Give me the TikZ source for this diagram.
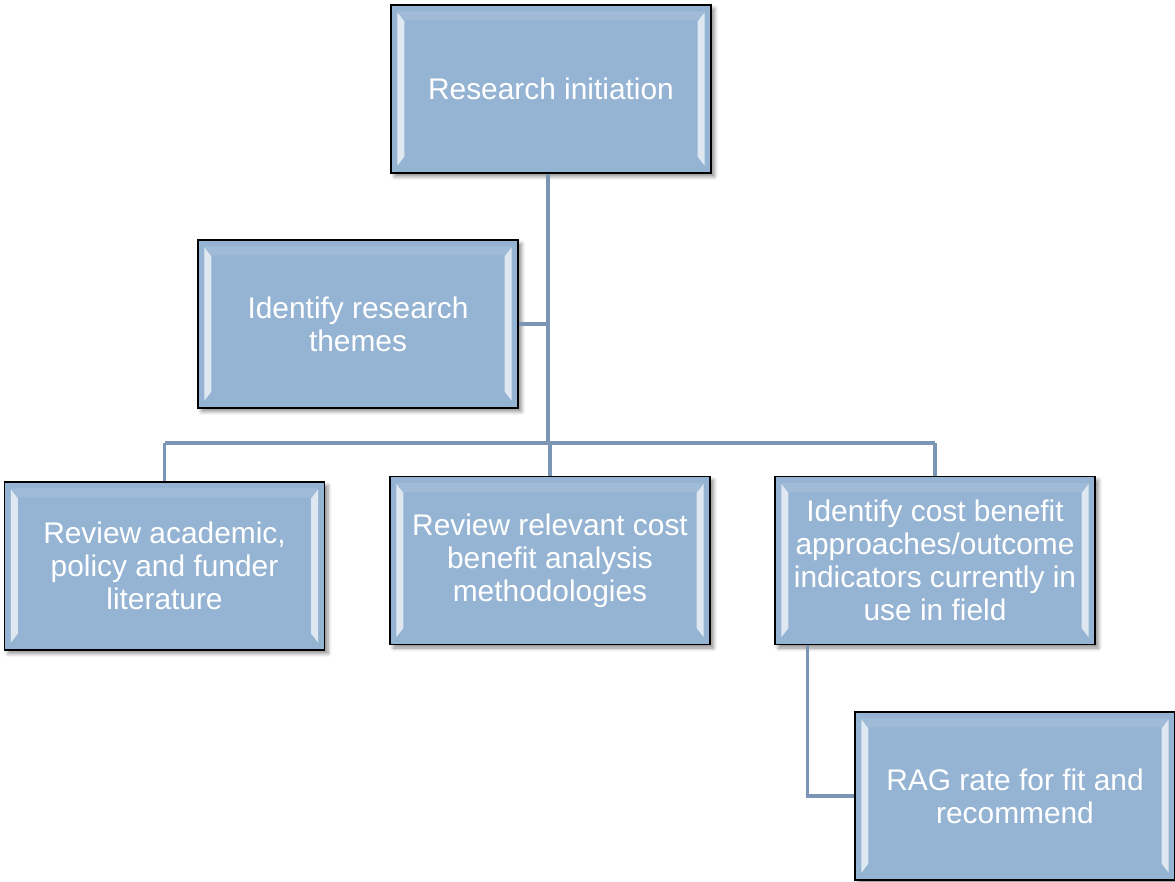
\documentclass[tikz,border=0pt]{standalone}
\usepackage{fontspec}
\setmainfont{Liberation Sans}
\usetikzlibrary{calc,shadows.blur}
\definecolor{boxfill}{RGB}{149,180,211}
\definecolor{linkcol}{RGB}{122,150,180}
\tikzset{
  stepbox/.style={rectangle,draw=black,line width=0.8pt,fill=boxfill,
    minimum width=6.4cm,minimum height=3.36cm,align=center,text=white,
    font=\fontsize{17}{18.7}\selectfont,
    blur shadow={shadow xshift=2pt,shadow yshift=-2pt,shadow blur steps=6,shadow opacity=45}},
  link/.style={draw=linkcol,line width=1.8pt}
}
% light bevel strips inside a box
\newcommand{\bevel}[1]{%
  \fill[white,opacity=0.7] ($(#1.north west)+(0.14,-0.16)$) -- ($(#1.north west)+(0.28,-0.34)$)
    -- ($(#1.south west)+(0.28,0.34)$) -- ($(#1.south west)+(0.14,0.16)$) -- cycle;
  \fill[white,opacity=0.7] ($(#1.north east)+(-0.14,-0.16)$) -- ($(#1.north east)+(-0.28,-0.34)$)
    -- ($(#1.south east)+(-0.28,0.34)$) -- ($(#1.south east)+(-0.14,0.16)$) -- cycle;
  \fill[white,opacity=0.1] ($(#1.north west)+(0.14,-0.14)$) -- ($(#1.north east)+(-0.14,-0.14)$)
    -- ($(#1.north east)+(-0.28,-0.32)$) -- ($(#1.north west)+(0.28,-0.32)$) -- cycle;
}

\begin{document}
\begin{tikzpicture}
\useasboundingbox (0,0) rectangle (23.5,-17.64);
% \draw[help lines] (0,0) grid (23.5,-17.64);
\node (init) [stepbox] at (11.02,-1.78) {Research initiation};
\node (themes) [stepbox] at (7.16,-6.48) {Identify research\\themes};
\node (lit) [stepbox] at (3.29,-11.32) {Review academic,\\policy and funder\\literature};
\node (methods) [stepbox] at (11.0,-11.21) {Review relevant cost\\benefit analysis\\methodologies};
\node (ident) [stepbox] at (18.7,-11.21) {Identify cost benefit\\approaches/outcome\\indicators currently in\\use in field};
\node (rag) [stepbox] at (20.3,-15.92) {RAG rate for fit and\\recommend};
%
\foreach \n in {init,themes,lit,methods,ident,rag} {\bevel{\n}}
%
\coordinate (bus) at (10.96,-8.86);
\coordinate (drop) at ($(ident.south west)+(0.66,0)$);
\draw[link] (init.south -| bus) -- (bus);
\draw[link] (themes.east) -- (themes.east -| bus);
\draw[link] (lit.north |- bus) -- (ident.north |- bus);
\draw[link] (lit.north |- bus) -- (lit.north);
\draw[link] (methods.north |- bus) -- (methods.north);
\draw[link] (ident.north |- bus) -- (ident.north);
\draw[link] (drop) |- (rag.west);
\end{tikzpicture}
\end{document}
